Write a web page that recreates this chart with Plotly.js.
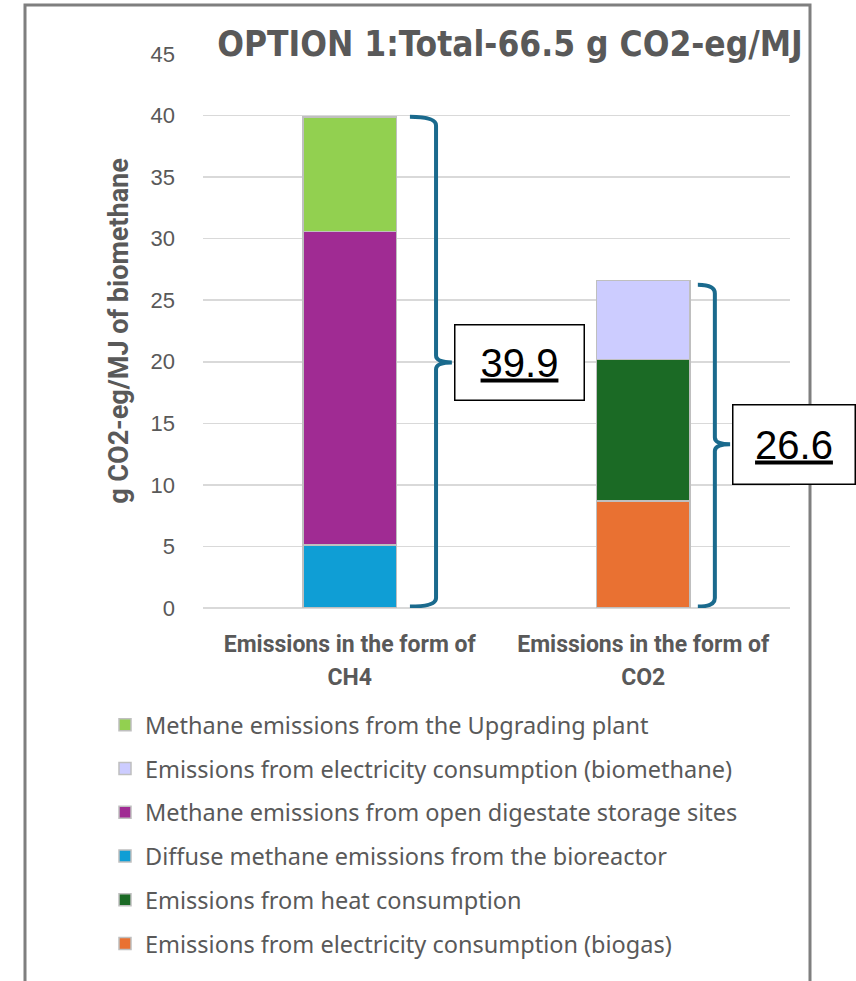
<!DOCTYPE html>
<html>
<head>
<meta charset="utf-8">
<script src="https://cdn.plot.ly/plotly-3.0.1.min.js"></script>
<style>
  html, body { margin: 0; padding: 0; background: #ffffff; }
  #chart { width: 856px; height: 981px; }
</style>
</head>
<body>
<div id="chart"></div>
<script>
// ---- data ----
const categories = ["Emissions in the form of CH4", "Emissions in the form of CO2"];
const tickLine1 = ["Emissions in the form of", "Emissions in the form of"];
const tickLine2 = ["CH4", "CO2"];

const diffuseBioreactor = [5.1, null];
const openDigestate = [25.5, null];
const upgradingPlant = [9.3, null];
const elecBiogas = [null, 8.7];
const heatConsumption = [null, 11.5];
const elecBiomethane = [null, 6.4];

const seriesNames = {
  diffuse: "Diffuse methane emissions from the bioreactor",
  digestate: "Methane emissions from open digestate storage sites",
  upgrading: "Methane emissions from the Upgrading plant",
  elecBiogas: "Emissions from electricity consumption (biogas)",
  heat: "Emissions from heat consumption",
  elecBiomethane: "Emissions from electricity consumption (biomethane)"
};

const titleText = "OPTION 1:Total-66.5 g CO2-eg/MJ";
const yTitle = "g CO2-eg/MJ of biomethane";

// ---- layout constants ----
const W = 856, H = 981;
const M = { l: 203, r: 66, t: 54, b: 373 };
const plotW = W - M.l - M.r, plotH = H - M.t - M.b;
const px2paperX = p => (p - M.l) / plotW;
const px2paperY = p => (H - M.b - p) / plotH;

const xIdx = categories.map((_, i) => i);
const greyText = "#595959";
const barLine = { color: "#BFBFBF", width: 1.5 };

function bar(y, name, color, rank) {
  return {
    type: "bar", x: xIdx, y: y, name: name, legendrank: rank, legendgroup: name,
    marker: { color: color, line: barLine }, hoverinfo: "y+name"
  };
}

const traces = [
  bar(diffuseBioreactor, seriesNames.diffuse, "#0F9ED5", 4),
  bar(openDigestate, seriesNames.digestate, "#A02B93", 3),
  bar(upgradingPlant, seriesNames.upgrading, "#92D050", 1),
  bar(elecBiogas, seriesNames.elecBiogas, "#E97132", 6),
  bar(heatConsumption, seriesNames.heat, "#1B6A25", 5),
  bar(elecBiomethane, seriesNames.elecBiomethane, "#CCCCFF", 2)
];

// totals per category from the data
const allSeries = [diffuseBioreactor, openDigestate, upgradingPlant, elecBiogas, heatConsumption, elecBiomethane];
const totals = xIdx.map(i => Math.round(allSeries.reduce((s, a) => s + (a[i] || 0), 0) * 10) / 10);

// bracket geometry (in x-category units relative to bar centre)
const bracketGeom = [
  { hook: 0.205, vert: 0.294, tip: 0.348, top: 0.0, boxW: 126, boxH: 72 },
  { hook: 0.186, vert: 0.244, tip: 0.296, top: 0.35, boxW: 119, boxH: 76 }
];
const braceColor = "#1A6A8D";

const shapes = [];
const annotations = [];
xIdx.forEach(i => {
  const g = bracketGeom[i];
  const xl = i + g.hook, xv = i + g.vert, xm = i + g.tip;
  const yt = totals[i] - g.top, yb = 0.12, ym = totals[i] / 2;
  const dy = 0.7, dm = 0.55;
  const path = `M ${xl},${yt} Q ${xv},${yt} ${xv},${yt - dy} ` +
    `L ${xv},${ym + dm} Q ${xv},${ym} ${xm},${ym} Q ${xv},${ym} ${xv},${ym - dm} ` +
    `L ${xv},${yb + dy} Q ${xv},${yb} ${xl},${yb}`;
  shapes.push({ type: "path", xref: "x", yref: "y", path: path,
    line: { color: braceColor, width: 4 }, layer: "above" });
  annotations.push({
    xref: "x", yref: "y", x: xm, y: ym, xanchor: "left", yanchor: "middle",
    xshift: 2, showarrow: false, text: "<u>" + totals[i].toFixed(1) + "</u>",
    font: { family: "Liberation Sans, Arial, sans-serif", size: 40, color: "#000000" },
    bgcolor: "#ffffff", bordercolor: "#000000", borderwidth: 1.5,
    width: g.boxW, height: g.boxH, align: "center", valign: "middle"
  });
});

// outer frame
shapes.push({
  type: "rect", xref: "paper", yref: "paper", layer: "below",
  x0: px2paperX(25), x1: px2paperX(810), y0: px2paperY(1000), y1: px2paperY(5),
  line: { color: "#7F7F7F", width: 3 }, fillcolor: "rgba(0,0,0,0)"
});

const tickText = xIdx.map(i =>
  `<span style="font-size:23px">${tickLine1[i]}</span><br><span style="font-size:23px">${tickLine2[i]}</span>`);

const layout = {
  width: W, height: H,
  margin: M,
  paper_bgcolor: "#ffffff", plot_bgcolor: "#ffffff",
  barmode: "stack", bargap: 0.68,
  showlegend: true,
  title: {
    text: titleText, xref: "container", yref: "container",
    x: 510 / W, y: 1 - 44 / H, xanchor: "center", yanchor: "middle",
    font: { family: "Liberation Sans Narrow, DejaVu Sans Condensed, Roboto Condensed, Arial Narrow, sans-serif",
      size: 35, color: greyText, weight: "bold" }
  },
  xaxis: {
    type: "linear", range: [-0.5, 1.5], tickvals: xIdx, ticktext: tickText,
    showgrid: false, zeroline: false, showline: false, ticks: "",
    tickfont: { family: "Roboto, sans-serif", size: 25, color: greyText, weight: "bold" },
    ticklabelstandoff: 18, fixedrange: true
  },
  yaxis: {
    range: [0, 45], dtick: 5, tick0: 0,
    showgrid: true, gridcolor: "#D9D9D9", gridwidth: 1.5,
    zeroline: true, zerolinecolor: "#D9D9D9", zerolinewidth: 1.5,
    showline: false, ticks: "",
    tickfont: { family: "Liberation Sans, Arial, sans-serif", size: 22, color: greyText },
    ticklabelstandoff: 27,
    title: { text: yTitle, standoff: 14,
      font: { family: "Roboto, sans-serif", size: 27, color: greyText, weight: "bold" } },
    fixedrange: true
  },
  legend: {
    orientation: "v", traceorder: "grouped", tracegroupgap: 10.2,
    x: px2paperX(105), xanchor: "left", y: px2paperY(703), yanchor: "top",
    font: { family: "Noto Sans, sans-serif", size: 23.5, color: greyText },
    bgcolor: "rgba(0,0,0,0)", itemclick: false, itemdoubleclick: false
  },
  shapes: shapes,
  annotations: annotations
};

Plotly.newPlot("chart", traces, layout, { displayModeBar: false, staticPlot: true });
</script>
</body>
</html>
